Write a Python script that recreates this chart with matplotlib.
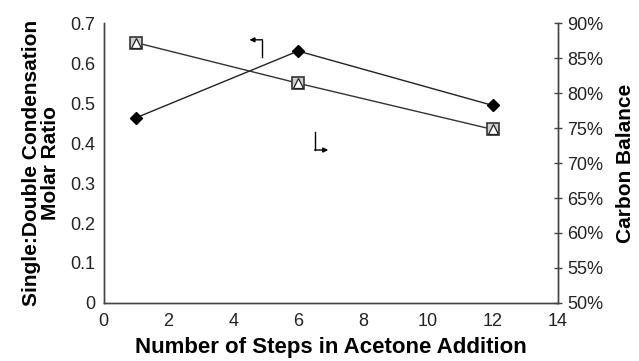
import matplotlib.pyplot as plt
from matplotlib.ticker import FuncFormatter

plt.rcParams['font.family'] = ['Liberation Sans', 'DejaVu Sans']

# steps in acetone addition
steps = [1, 6, 12]
# single:double condensation molar ratio (left axis)
molar_ratio = [0.463, 0.630, 0.494]
# carbon balance, % (right axis)
carbon_balance = [87.2, 81.4, 74.8]

fig = plt.figure(figsize=(6.39, 3.61), dpi=100)
ax = fig.add_axes([0.162, 0.1607, 0.7105, 0.7755])
ax2 = ax.twinx()

ax.plot(steps, molar_ratio, color='#222222', lw=1.0, marker='D', ms=6.5,
        mfc='black', mec='black', zorder=3)
ax2.plot(steps, carbon_balance, color='#333333', lw=1.0, marker='s', ms=9,
         mfc='#d0d0d0', mec='#333333', mew=1.2, zorder=3)
ax2.plot(steps, carbon_balance, ls='none', marker='^', ms=6.5,
         mfc='white', mec='#222222', mew=0.9, zorder=4)

ax.set_xlim(0, 14)
ax.set_ylim(0, 0.7)
ax2.set_ylim(50, 90)
ax.set_xticks(range(0, 15, 2))
ax.set_yticks([0, 0.1, 0.2, 0.3, 0.4, 0.5, 0.6, 0.7])
ax.yaxis.set_major_formatter(FuncFormatter(lambda v, p: '0' if v == 0 else f'{v:.1f}'))
ax2.set_yticks(range(50, 91, 5))
ax2.yaxis.set_major_formatter(FuncFormatter(lambda v, p: f'{v:.0f}%'))

for a in (ax, ax2):
    a.spines['top'].set_visible(False)
    for s in a.spines.values():
        s.set_color('#444444')
        s.set_linewidth(1.0)
ax.tick_params(axis='y', length=0, labelsize=13, colors='#222222', pad=6)
ax.tick_params(axis='x', length=0, labelsize=13, colors='#222222', pad=7)
ax2.tick_params(axis='y', direction='inout', length=6, width=1.0, color='#444444',
                labelsize=13, labelcolor='#222222', pad=4)

ax.set_xlabel('Number of Steps in Acetone Addition', fontsize=16,
              fontweight='bold', labelpad=5)
ax.set_ylabel('Single:Double Condensation\nMolar Ratio', fontsize=15,
              fontweight='bold', labelpad=7, linespacing=1.05)
ax2.set_ylabel('Carbon Balance', fontsize=15, fontweight='bold', labelpad=9)

# little bent arrows telling which axis each series belongs to
ax.plot([4.89, 4.89], [0.615, 0.658], color='black', lw=1.0)
ax.annotate('', xy=(4.50, 0.658), xytext=(4.90, 0.658),
            arrowprops=dict(arrowstyle='-|>', color='black', lw=1.0,
                            mutation_scale=7, shrinkA=0, shrinkB=0))
ax.plot([6.52, 6.52], [0.3825, 0.4275], color='black', lw=1.0)
ax.annotate('', xy=(6.93, 0.3825), xytext=(6.51, 0.3825),
            arrowprops=dict(arrowstyle='-|>', color='black', lw=1.0,
                            mutation_scale=7, shrinkA=0, shrinkB=0))

fig.savefig('out.png', dpi=100)
